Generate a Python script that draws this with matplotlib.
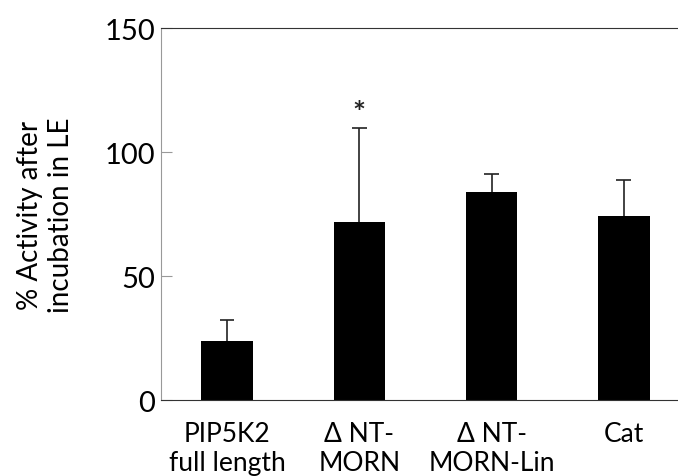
import numpy as np
import matplotlib.pyplot as plt

plt.rcParams['font.family'] = ['Lato', 'DejaVu Sans']

labels = ['PIP5K2\nfull length', '\u0394 NT-\nMORN', '\u0394 NT-\nMORN-Lin', 'Cat']
activity = np.array([23.8, 71.8, 83.9, 74.2])
err_up = np.array([8.5, 37.9, 7.2, 14.5])
stars = ['', '*', '', '']

fig = plt.figure(figsize=(6.78, 4.77), dpi=100)
ax = fig.add_axes([0.2375, 0.1593, 0.78, 0.7799])

x = np.arange(len(labels))
ax.bar(x, activity, width=0.39, color='black', linewidth=0, zorder=2)
# upper error bars only
ax.vlines(x, activity, activity + err_up, color='#222222', linewidth=1.2, zorder=1)
ax.hlines(activity + err_up, x - 0.055, x + 0.055, color='#222222', linewidth=1.2, zorder=1)

for i, s in enumerate(stars):
    if s:
        ax.text(x[i], activity[i] + err_up[i] + 0.5, s, ha='center', va='bottom',
                fontsize=22, fontweight='bold', color='#222222')

ax.set_xlim(-0.5, 3.5)
ax.set_ylim(0, 150)
ax.set_yticks([0, 50, 100, 150])
ax.set_xticks(x)
ax.set_xticklabels(labels, fontsize=19, linespacing=1.2)
ax.tick_params(axis='y', direction='in', length=8, color='#999999', labelsize=21, pad=4)
ax.tick_params(axis='x', length=0, pad=15)

ax.spines['left'].set_color('#999999')
ax.spines['top'].set_color('#333333')
ax.spines['bottom'].set_color('#333333')
ax.spines['right'].set_visible(False)

ax.set_ylabel('% Activity after\nincubation in LE', fontsize=20, linespacing=1.25, labelpad=22)

fig.savefig('out.png', dpi=100)
